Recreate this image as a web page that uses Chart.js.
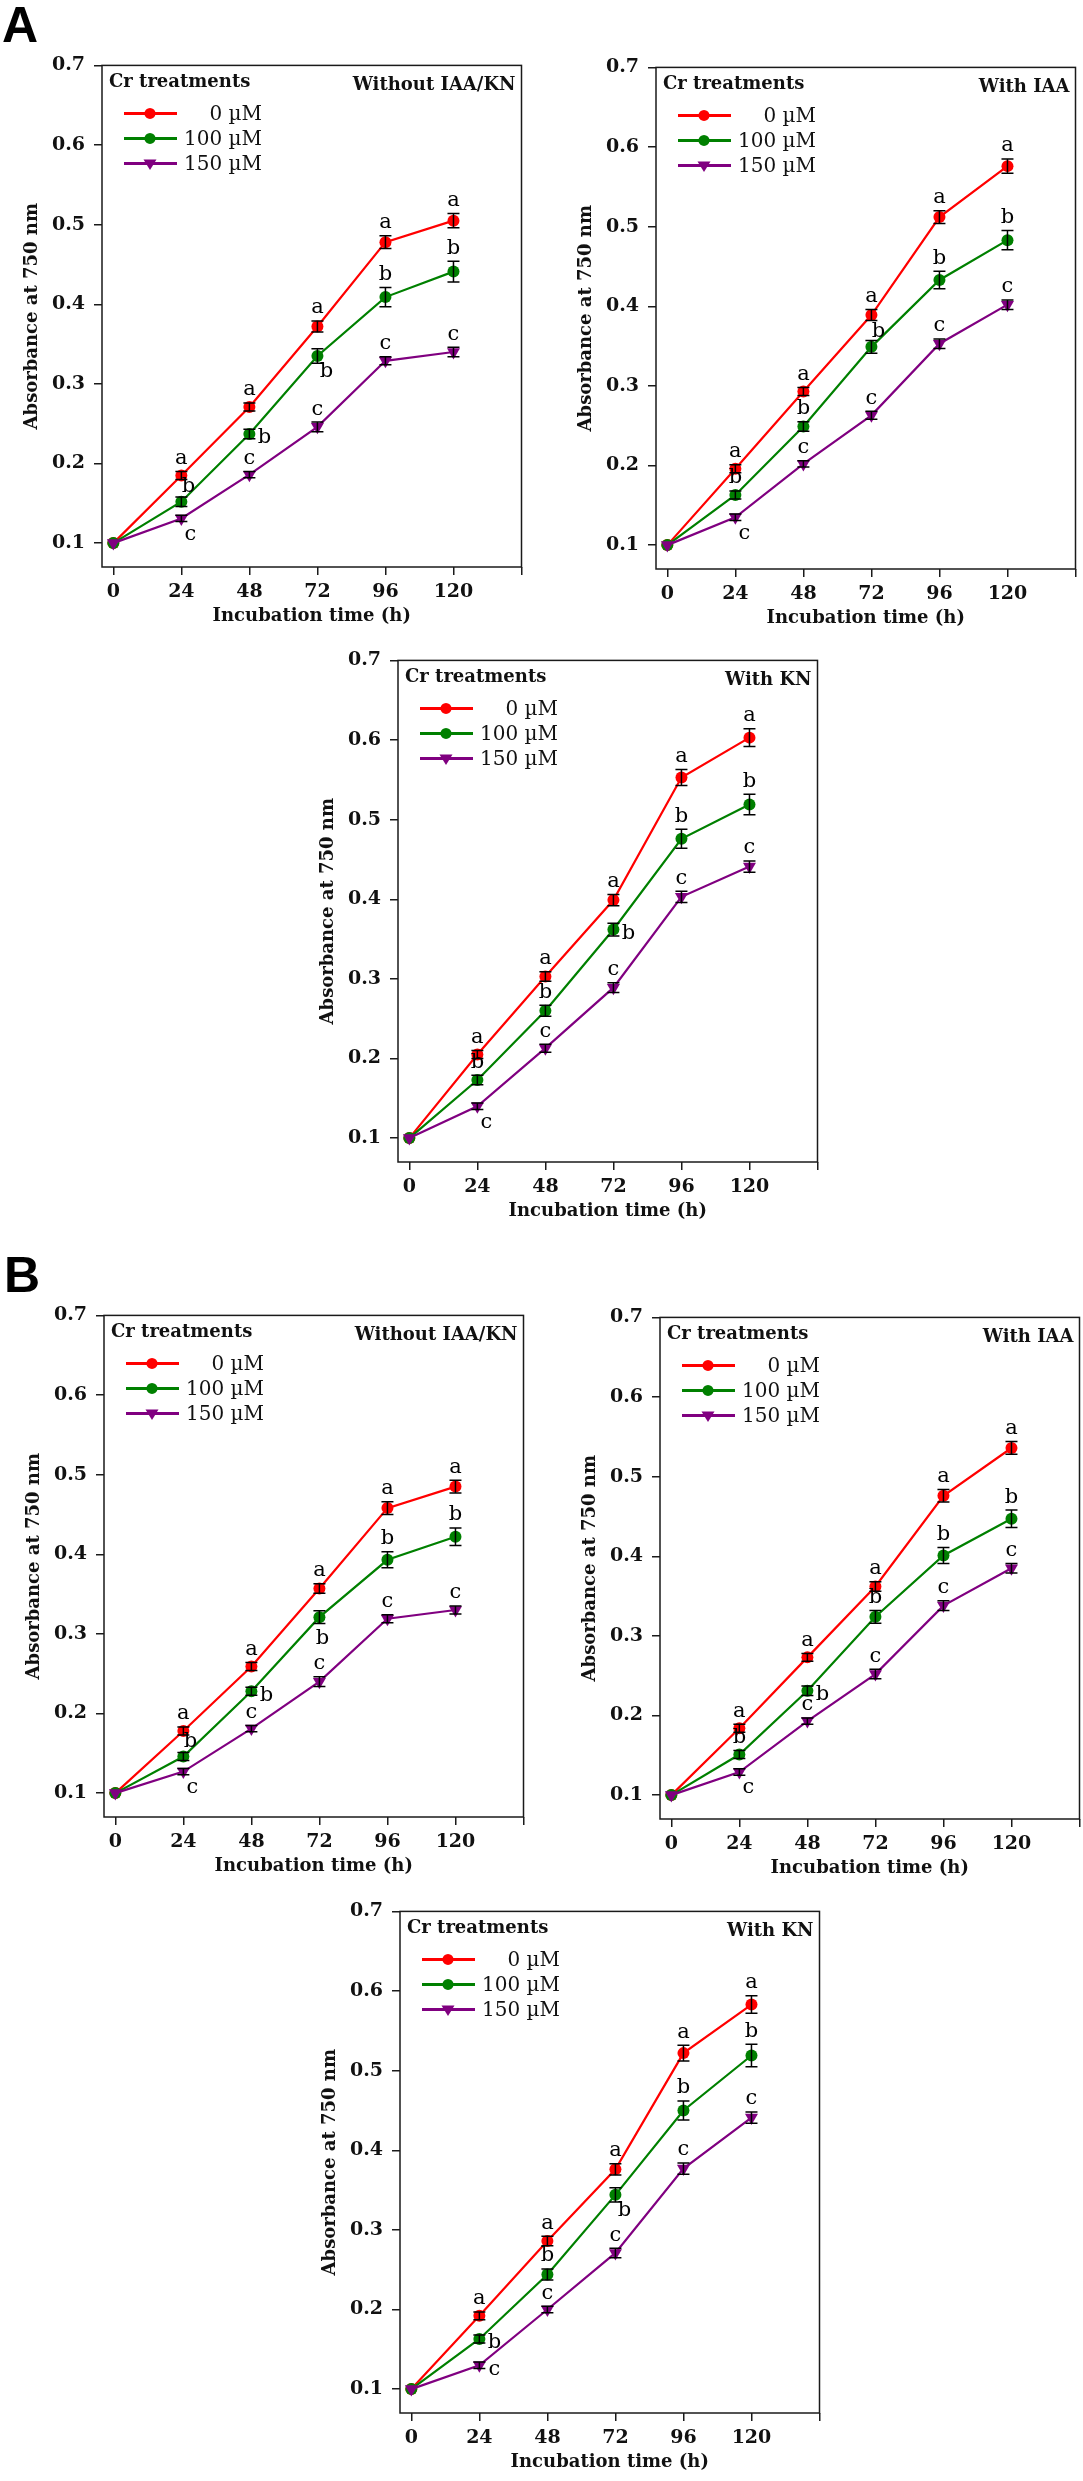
<!DOCTYPE html>
<html>
<head>
<meta charset="utf-8">
<title>Absorbance at 750 nm under Cr treatments</title>
<script src="https://cdn.jsdelivr.net/npm/chart.js@4.4.1/dist/chart.umd.min.js"></script>
<style>
  html, body { margin: 0; padding: 0; background: #fff; }
  body { width: 1083px; height: 2481px; position: relative; overflow: hidden; }
  .panel { position: absolute; }
  .tag { position: absolute; font: bold 50px "Liberation Sans", Arial, sans-serif; line-height: 1; color: #000; }
</style>
</head>
<body>
<div class="tag" style="left:2px;top:0px">A</div>
<div class="tag" style="left:4px;top:1250px">B</div>
<canvas id="a1" class="panel"></canvas>
<canvas id="a2" class="panel"></canvas>
<canvas id="a3" class="panel"></canvas>
<canvas id="b1" class="panel"></canvas>
<canvas id="b2" class="panel"></canvas>
<canvas id="b3" class="panel"></canvas>
<script>
const hours  = [0, 24, 48, 72, 96, 120];
const xTicks = [0, 24, 48, 72, 96, 120, 144];
const yTicks = [0.1, 0.2, 0.3, 0.4, 0.5, 0.6, 0.7];
const doses  = ['0 µM', '100 µM', '150 µM'];
const sigLetters = [
  ['', 'a', 'a', 'a', 'a', 'a'],
  ['', 'b', 'b', 'b', 'b', 'b'],
  ['', 'c', 'c', 'c', 'c', 'c']
];

// A - without IAA/KN
const aPlain0   = [0.100, 0.185, 0.271, 0.372, 0.478, 0.505];
const aPlain100 = [0.100, 0.152, 0.237, 0.335, 0.409, 0.441];
const aPlain150 = [0.100, 0.131, 0.186, 0.246, 0.329, 0.340];
const aPlainSd0   = [0, 0.005, 0.005, 0.007, 0.008, 0.009];
const aPlainSd100 = [0, 0.006, 0.006, 0.009, 0.012, 0.013];
const aPlainSd150 = [0, 0.004, 0.004, 0.006, 0.005, 0.006];

// A - with IAA
const aIaa0   = [0.100, 0.196, 0.293, 0.389, 0.512, 0.576];
const aIaa100 = [0.100, 0.163, 0.249, 0.349, 0.433, 0.483];
const aIaa150 = [0.100, 0.135, 0.202, 0.263, 0.353, 0.402];
const aIaaSd0   = [0, 0.005, 0.005, 0.007, 0.008, 0.009];
const aIaaSd100 = [0, 0.005, 0.006, 0.008, 0.011, 0.012];
const aIaaSd150 = [0, 0.004, 0.004, 0.005, 0.006, 0.006];

// A - with KN
const aKn0   = [0.100, 0.205, 0.303, 0.399, 0.553, 0.603];
const aKn100 = [0.100, 0.173, 0.260, 0.362, 0.476, 0.519];
const aKn150 = [0.100, 0.140, 0.213, 0.289, 0.403, 0.441];
const aKnSd0   = [0, 0.005, 0.006, 0.007, 0.010, 0.011];
const aKnSd100 = [0, 0.006, 0.007, 0.008, 0.012, 0.013];
const aKnSd150 = [0, 0.004, 0.005, 0.006, 0.007, 0.007];

// B - without IAA/KN
const bPlain0   = [0.100, 0.178, 0.259, 0.357, 0.458, 0.485];
const bPlain100 = [0.100, 0.146, 0.228, 0.321, 0.393, 0.422];
const bPlain150 = [0.100, 0.127, 0.181, 0.240, 0.319, 0.330];
const bPlainSd0   = [0, 0.005, 0.005, 0.006, 0.008, 0.008];
const bPlainSd100 = [0, 0.005, 0.005, 0.008, 0.010, 0.011];
const bPlainSd150 = [0, 0.004, 0.004, 0.006, 0.005, 0.005];

// B - with IAA
const bIaa0   = [0.100, 0.184, 0.273, 0.362, 0.476, 0.536];
const bIaa100 = [0.100, 0.151, 0.231, 0.324, 0.401, 0.447];
const bIaa150 = [0.100, 0.129, 0.193, 0.252, 0.338, 0.385];
const bIaaSd0   = [0, 0.005, 0.005, 0.006, 0.008, 0.008];
const bIaaSd100 = [0, 0.005, 0.006, 0.008, 0.010, 0.011];
const bIaaSd150 = [0, 0.004, 0.004, 0.006, 0.006, 0.006];

// B - with KN
const bKn0   = [0.100, 0.192, 0.286, 0.376, 0.522, 0.583];
const bKn100 = [0.100, 0.163, 0.244, 0.344, 0.450, 0.519];
const bKn150 = [0.100, 0.130, 0.200, 0.271, 0.377, 0.441];
const bKnSd0   = [0, 0.005, 0.006, 0.007, 0.010, 0.011];
const bKnSd100 = [0, 0.005, 0.007, 0.009, 0.012, 0.014];
const bKnSd150 = [0, 0.004, 0.004, 0.006, 0.007, 0.007];

/* ---- look ---- */
const SERIF  = '"DejaVu Serif", "Liberation Serif", serif';
const COLORS = ['#ff0000', '#008000', '#800080'];
const Y_AXIS_W = 102, PAD_TOP = 12, PAD_RIGHT = 6, X_AXIS_H = 62;
const BOX_W = 421, BOX_H = 510;

// where each significance letter sits next to its point
const TOP = ['', 't', 't', 't', 't', 't'];
const panels = [
  { id: 'a1', left: 102, top: 57,   title: 'Without IAA/KN', means: [aPlain0, aPlain100, aPlain150], sds: [aPlainSd0, aPlainSd100, aPlainSd150],
    sigPos: [TOP, ['', 'tr', 'r', 'br', 't', 't'], ['', 'br', 't', 't', 't', 't']] },
  { id: 'a2', left: 656, top: 59,   title: 'With IAA', means: [aIaa0, aIaa100, aIaa150], sds: [aIaaSd0, aIaaSd100, aIaaSd150],
    sigPos: [TOP, ['', 't', 't', 'tr', 't', 't'], ['', 'br', 't', 't', 't', 't']] },
  { id: 'a3', left: 398, top: 652,  title: 'With KN', means: [aKn0, aKn100, aKn150], sds: [aKnSd0, aKnSd100, aKnSd150],
    sigPos: [TOP, ['', 't', 't', 'r', 't', 't'], ['', 'br', 't', 't', 't', 't']] },
  { id: 'b1', left: 104, top: 1307, title: 'Without IAA/KN', means: [bPlain0, bPlain100, bPlain150], sds: [bPlainSd0, bPlainSd100, bPlainSd150],
    sigPos: [TOP, ['', 'tr', 'r', 'b', 't', 't'], ['', 'br', 't', 't', 't', 't']] },
  { id: 'b2', left: 660, top: 1309, title: 'With IAA', means: [bIaa0, bIaa100, bIaa150], sds: [bIaaSd0, bIaaSd100, bIaaSd150],
    sigPos: [TOP, ['', 't', 'r', 't', 't', 't'], ['', 'br', 't', 't', 't', 't']] },
  { id: 'b3', left: 400, top: 1903, title: 'With KN', means: [bKn0, bKn100, bKn150], sds: [bKnSd0, bKnSd100, bKnSd150],
    sigPos: [TOP, ['', 'r', 't', 'br', 't', 't'], ['', 'r', 't', 't', 't', 't']] }
];
const SIG_OFFSET = { tr: [7, -15], r: [15, 4], br: [9, 16], b: [3, 21] };

function font(size, bold) { return (bold ? 'bold ' : '') + size + 'px ' + SERIF; }

function drawMarker(ctx, style, x, y, r, color) {
  ctx.save();
  ctx.fillStyle = color;
  ctx.beginPath();
  if (style === 'triangle') {
    ctx.moveTo(x - r, y - r * 0.6);
    ctx.lineTo(x + r, y - r * 0.6);
    ctx.lineTo(x, y + r);
    ctx.closePath();
  } else {
    ctx.arc(x, y, r, 0, Math.PI * 2);
  }
  ctx.fill();
  ctx.restore();
}

const framePlugin = {
  id: 'frame',
  beforeDatasetsDraw(chart) {
    const { ctx, chartArea: a } = chart;
    ctx.save();
    ctx.strokeStyle = '#1a1a1a';
    ctx.lineWidth = 1.5;
    ctx.strokeRect(a.left, a.top, a.right - a.left, a.bottom - a.top);
    ctx.restore();
  }
};

const errorPlugin = {
  id: 'errorBars',
  afterDatasetsDraw(chart) {
    const { ctx } = chart;
    const ys = chart.scales.y;
    ctx.save();
    chart.data.datasets.forEach((ds, i) => {
      const meta = chart.getDatasetMeta(i);
      meta.data.forEach((pt, j) => {
        const v = ds.data[j].y, e = ds.sd[j];
        const yHi = ys.getPixelForValue(v + e);
        const yLo = ys.getPixelForValue(v - e);
        if (e > 0) {
          ctx.strokeStyle = '#000';
          ctx.lineWidth = 1.5;
          ctx.beginPath();
          ctx.moveTo(pt.x, yHi); ctx.lineTo(pt.x, yLo);
          ctx.moveTo(pt.x - 6, yHi); ctx.lineTo(pt.x + 6, yHi);
          ctx.moveTo(pt.x - 6, yLo); ctx.lineTo(pt.x + 6, yLo);
          ctx.stroke();
        }
        const letter = ds.sig[j];
        if (!letter) return;
        ctx.fillStyle = '#000';
        ctx.font = font(21, false);
        ctx.textAlign = 'center';
        ctx.textBaseline = 'middle';
        const pos = ds.sigPos[j];
        if (pos === 't') {
          ctx.fillText(letter, pt.x, yHi - 13);
        } else {
          const off = SIG_OFFSET[pos];
          ctx.fillText(letter, pt.x + off[0], pt.y + off[1]);
        }
      });
    });
    ctx.restore();
  }
};

const legendPlugin = {
  id: 'boxLegend',
  afterDraw(chart) {
    const { ctx, chartArea: a } = chart;
    const title = chart.options.plugins.boxLegend.title;
    ctx.save();
    ctx.fillStyle = '#111';
    ctx.textBaseline = 'middle';
    ctx.font = font(18, true);
    ctx.textAlign = 'left';
    ctx.fillText('Cr treatments', a.left + 7, a.top + 17);
    ctx.textAlign = 'right';
    ctx.fillText(title, a.right - 6, a.top + 20);
    chart.data.datasets.forEach((ds, i) => {
      const y = a.top + 48 + i * 25;
      ctx.strokeStyle = ds.borderColor;
      ctx.lineWidth = 3;
      ctx.beginPath();
      ctx.moveTo(a.left + 22, y);
      ctx.lineTo(a.left + 75, y);
      ctx.stroke();
      drawMarker(ctx, ds.pointStyle, a.left + 48, y, ds.pointStyle === 'triangle' ? 6.5 : 5.5, ds.borderColor);
      ctx.fillStyle = '#111';
      ctx.font = font(20, false);
      ctx.fillText(ds.label, a.left + 160, y + 1);
    });
    ctx.restore();
  }
};

function axisGrid() {
  return { drawOnChartArea: false, drawTicks: true, tickLength: 8, color: '#1a1a1a', lineWidth: 1.5 };
}

function makeChart(p) {
  const canvas = document.getElementById(p.id);
  const w = Y_AXIS_W + BOX_W + PAD_RIGHT;
  const h = PAD_TOP + BOX_H + X_AXIS_H;
  canvas.width = w;
  canvas.height = h;
  canvas.style.width = w + 'px';
  canvas.style.height = h + 'px';
  canvas.style.left = (p.left - Y_AXIS_W) + 'px';
  canvas.style.top = (p.top - PAD_TOP) + 'px';

  const datasets = p.means.map((m, i) => ({
    label: doses[i],
    data: m.map((v, j) => ({ x: hours[j], y: v })),
    sd: p.sds[i],
    sig: sigLetters[i],
    sigPos: p.sigPos[i],
    borderColor: COLORS[i],
    backgroundColor: COLORS[i],
    borderWidth: 2.2,
    pointStyle: i === 2 ? 'triangle' : 'circle',
    pointRotation: i === 2 ? 180 : 0,
    pointRadius: i === 2 ? 7.5 : 6,
    pointBorderWidth: 0,
    tension: 0,
    order: 3 - i
  }));

  return new Chart(canvas.getContext('2d'), {
    type: 'line',
    data: { datasets },
    plugins: [framePlugin, errorPlugin, legendPlugin],
    options: {
      responsive: false,
      animation: false,
      devicePixelRatio: 1,
      layout: { padding: { top: PAD_TOP, right: PAD_RIGHT, left: 0, bottom: 0 } },
      plugins: {
        legend: { display: false },
        tooltip: { enabled: false },
        boxLegend: { title: p.title }
      },
      scales: {
        x: {
          type: 'linear',
          min: -4,
          max: 144,
          afterBuildTicks: s => { s.ticks = xTicks.map(v => ({ value: v })); },
          afterFit: s => { s.height = X_AXIS_H; },
          grid: axisGrid(),
          border: { display: false },
          ticks: {
            color: '#111',
            font: { family: SERIF, size: 19, weight: 'bold' },
            padding: 6,
            maxRotation: 0,
            autoSkip: false,
            callback: v => (v > 120 ? '' : String(v))
          },
          title: {
            display: true,
            text: 'Incubation time (h)',
            color: '#111',
            font: { family: SERIF, size: 18, weight: 'bold' },
            padding: { top: 0, bottom: 2 }
          }
        },
        y: {
          min: 0.07,
          max: 0.7,
          afterBuildTicks: s => { s.ticks = yTicks.map(v => ({ value: v })); },
          afterFit: s => { s.width = Y_AXIS_W; },
          grid: axisGrid(),
          border: { display: false },
          ticks: {
            color: '#111',
            font: { family: SERIF, size: 19, weight: 'bold' },
            padding: 9,
            callback: v => v.toFixed(1)
          },
          title: {
            display: true,
            text: 'Absorbance at 750 nm',
            color: '#111',
            font: { family: SERIF, size: 18, weight: 'bold' },
            padding: { top: 22, bottom: 0 }
          }
        }
      }
    }
  });
}

panels.forEach(makeChart);
</script>
</body>
</html>
